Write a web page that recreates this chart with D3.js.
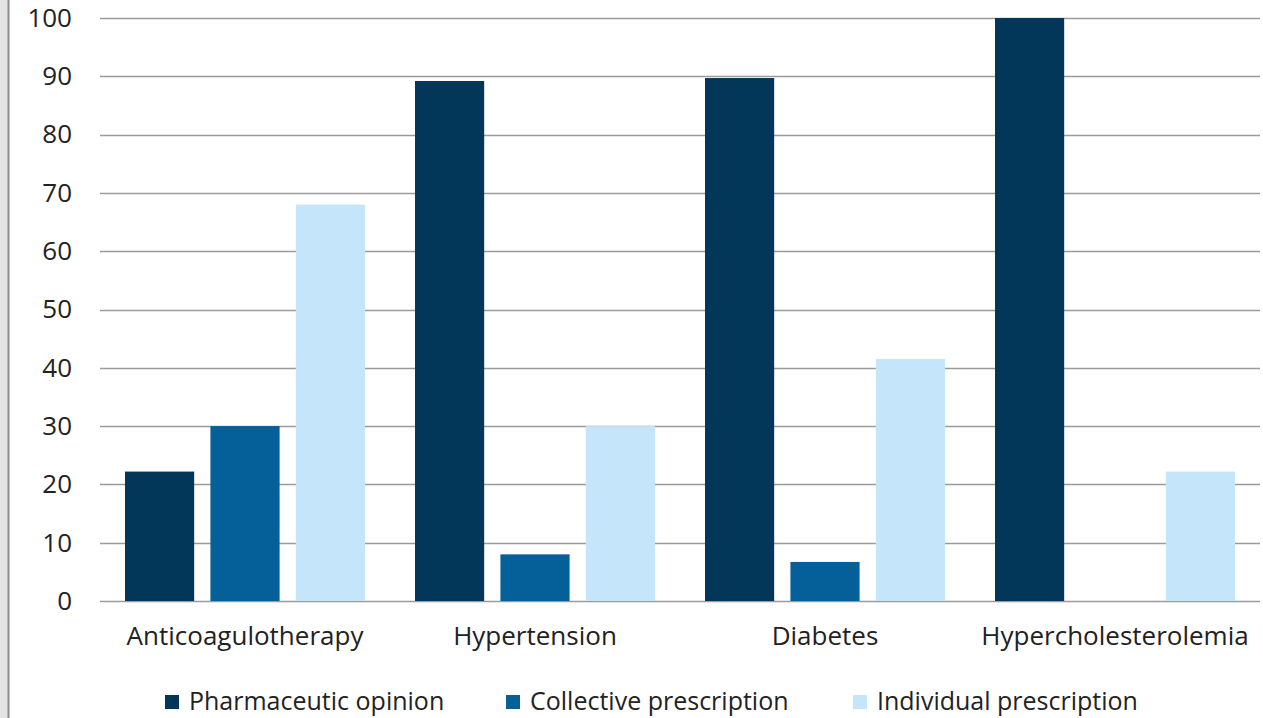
<!DOCTYPE html>
<html>
<head>
<meta charset="utf-8">
<script src="https://cdn.jsdelivr.net/npm/d3@7"></script>
<style>
    body { margin: 0; background: #fff; }
    svg { display: block; font-family: "Open Sans", "Noto Sans", sans-serif; }
</style>
</head>
<body>
<svg id="chart"></svg>
<script>
const categories = ['Anticoagulotherapy', 'Hypertension', 'Diabetes', 'Hypercholesterolemia'];
const seriesNames = ['Pharmaceutic opinion', 'Collective prescription', 'Individual prescription'];
const pharmaceuticOpinion = [22.2, 89.2, 89.7, 100];
const collectivePrescription = [30, 8, 6.7, 0];
const individualPrescription = [68, 30, 41.5, 22.2];
const yTicks = [0, 10, 20, 30, 40, 50, 60, 70, 80, 90, 100];
const colors = ['#03375a', '#05609a', '#c5e6fa'];

const W = 1263, H = 718;
const margin = {top: 18, right: 3, bottom: 117, left: 100};
const width = W - margin.left - margin.right;
const height = H - margin.top - margin.bottom;
const fontSize = 26;

const svg = d3.select('#chart').attr('width', W).attr('height', H);

// grey frame strip on the left
svg.append('rect').attr('x', 0).attr('y', 0).attr('width', 8).attr('height', H).attr('fill', '#e4e4e4');
svg.append('line').attr('x1', 8.5).attr('x2', 8.5).attr('y1', 0).attr('y2', H)
    .attr('stroke', '#8c8c8c').attr('stroke-width', 2);

const g = svg.append('g').attr('transform', `translate(${margin.left}, ${margin.top})`);

const xScale = d3.scaleBand().domain(categories).range([0, width]).paddingInner(0).paddingOuter(0);
const xInner = d3.scaleBand().domain(seriesNames).range([25, 265]).paddingInner(0.19).paddingOuter(0);
const yScale = d3.scaleLinear().domain([0, 100]).range([height, 0]);

// gridlines
g.append('g')
    .selectAll('line')
    .data(yTicks)
    .enter()
    .append('line')
    .attr('x1', 0)
    .attr('x2', width)
    .attr('y1', d => Math.round(yScale(d)) + 0.5)
    .attr('y2', d => Math.round(yScale(d)) + 0.5)
    .attr('stroke', '#9a9a9a')
    .attr('stroke-width', 1.6);

const yAxis = d3.axisLeft(yScale).tickValues(yTicks).tickSize(0).tickPadding(28);
g.append('g')
    .attr('class', 'y-axis')
    .call(yAxis)
    .call(s => s.select('.domain').remove())
    .selectAll('text')
    .attr('font-size', fontSize)
    .attr('fill', '#222')
    .attr('font-family', '"Open Sans", "Noto Sans", sans-serif');

const series = [pharmaceuticOpinion, collectivePrescription, individualPrescription];
const rows = [];
categories.forEach((c, i) => {
    seriesNames.forEach((s, j) => {
        rows.push({cat: c, name: s, value: series[j][i], color: colors[j]});
    });
});

g.selectAll('.bar')
    .data(rows)
    .enter()
    .append('rect')
    .attr('class', 'bar')
    .attr('x', d => xScale(d.cat) + xInner(d.name))
    .attr('width', xInner.bandwidth())
    .attr('y', d => yScale(d.value))
    .attr('height', d => height - yScale(d.value))
    .attr('fill', d => d.color);

const xAxis = d3.axisBottom(xScale).tickSize(0).tickPadding(26);
g.append('g')
    .attr('class', 'x-axis')
    .attr('transform', `translate(0, ${height})`)
    .call(xAxis)
    .call(s => s.select('.domain').remove())
    .selectAll('text')
    .attr('font-size', fontSize)
    .attr('fill', '#222')
    .attr('font-family', '"Open Sans", "Noto Sans", sans-serif');

// legend
const legendX = [165, 506, 853];
const legend = svg.append('g');
seriesNames.forEach((s, j) => {
    legend.append('rect')
        .attr('x', legendX[j]).attr('y', 695)
        .attr('width', 14).attr('height', 14)
        .attr('fill', colors[j]);
    legend.append('text')
        .attr('x', legendX[j] + 24).attr('y', 710)
        .attr('font-size', 25)
        .attr('fill', '#222')
        .text(s);
});
</script>
</body>
</html>
